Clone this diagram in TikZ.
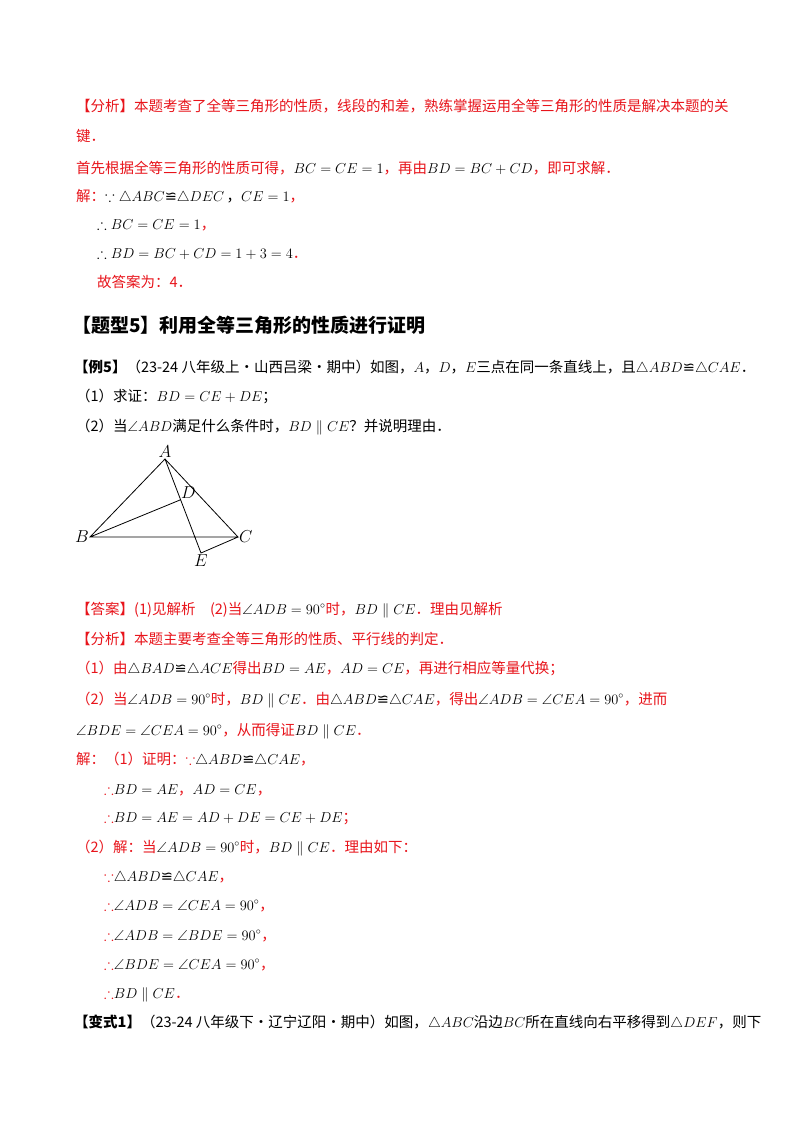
\documentclass[tikz,border=0pt]{standalone}
\usepackage{amsmath,amssymb}
\usepackage{fontspec}
\setmainfont{Noto Sans CJK SC}
\newfontfamily\djfont{DejaVu Sans}
\definecolor{rd}{HTML}{E8141B}
\newcommand{\cg}{{\djfont ≌}}
\newcommand{\rr}[1]{\textcolor{rd}{#1}}
\begin{document}
\begin{tikzpicture}[x=1pt,y=-1pt,
  ln/.style={anchor=base west,inner sep=0pt,font=\fontsize{14.5}{16}\selectfont},
  lab/.style={inner sep=1pt,font=\fontsize{16}{16}\selectfont}]
\useasboundingbox[fill=white] (0,0) rectangle (800,1132);
\node[ln] (l1) at (76,111) {\rr{【分析】本题考查了全等三角形的性质，线段的和差，熟练掌握运用全等三角形的性质是解决本题的关}};
\node[ln] (l2) at (76,141) {\rr{键．}};
\node[ln] (l3) at (76,173) {\rr{首先根据全等三角形的性质可得，}$BC=CE=1$\rr{，再由}$BD=BC+CD$\rr{，即可求解．}};
\node[ln] (l4) at (76,201) {\rr{解：}$\because\triangle ABC$\cg$\triangle DEC$\,，$CE=1$\rr{，}};
\node[ln] (l5) at (97,229) {$\therefore BC=CE=1$\rr{，}};
\node[ln] (l6) at (97,258) {$\therefore BD=BC+CD=1+3=4$\rr{．}};
\node[ln] (l7) at (97,287) {\rr{故答案为：4．}};
\node[ln,font=\fontsize{19}{21}\selectfont\bfseries] (h) at (72,332) {【题型5】利用全等三角形的性质进行证明};
\node[ln] (e1) at (74,372) {\textbf{【例5】}（23-24 八年级上·山西吕梁·期中）如图，$A$，$D$，$E$三点在同一条直线上，且$\triangle ABD$\cg$\triangle CAE$．};
\node[ln] (e2) at (76,401) {（1）求证：$BD=CE+DE$；};
\node[ln] (e3) at (76,431) {（2）当$\angle ABD$满足什么条件时，$BD\parallel CE$？并说明理由．};
% figure
\coordinate (A) at (165,459);
\coordinate (B) at (90,537);
\coordinate (C) at (238,537);
\coordinate (D) at (180,500);
\coordinate (E) at (201,553);
\draw[line width=0.8pt] (A)--(B)--(C)--cycle (B)--(D) (A)--(E)--(C);
\node[lab,above] (la) at (A) {$A$};
\node[lab,anchor=south west] (ld) at (D) {$D$};
\node[lab,left] (lb) at (B) {$B$};
\node[lab,right] (lc) at (C) {$C$};
\node[lab,below] (le) at (E) {$E$};
\node[ln] (a1) at (76,614) {\rr{【答案】(1)见解析\quad(2)当}$\angle ADB=90^\circ$\rr{时，}$BD\parallel CE$\rr{．理由见解析}};
\node[ln] (a2) at (76,644) {\rr{【分析】本题主要考查全等三角形的性质、平行线的判定．}};
\node[ln] (a3) at (76,673) {\rr{（1）由}$\triangle BAD$\cg$\triangle ACE$\rr{得出}$BD=AE$\rr{，}$AD=CE$\rr{，再进行相应等量代换；}};
\node[ln] (a4) at (76,704) {\rr{（2）当}$\angle ADB=90^\circ$\rr{时，}$BD\parallel CE$\rr{．由}$\triangle ABD$\cg$\triangle CAE$\rr{，得出}$\angle ADB=\angle CEA=90^\circ$\rr{，进而}};
\node[ln] (a5) at (76,735) {$\angle BDE=\angle CEA=90^\circ$\rr{，从而得证}$BD\parallel CE$\rr{．}};
\node[ln] (s1) at (76,764) {\rr{解：（1）证明：}\rr{$\because$}$\triangle ABD$\cg$\triangle CAE$\rr{，}};
\node[ln] (s2) at (104,794) {\rr{$\therefore$}$BD=AE$\rr{，}$AD=CE$\rr{，}};
\node[ln] (s3) at (104,822) {\rr{$\therefore$}$BD=AE=AD+DE=CE+DE$\rr{；}};
\node[ln] (s4) at (76,852) {\rr{（2）解：当}$\angle ADB=90^\circ$\rr{时，}$BD\parallel CE$\rr{．理由如下：}};
\node[ln] (s5) at (104,881) {\rr{$\because$}$\triangle ABD$\cg$\triangle CAE$\rr{，}};
\node[ln] (s6) at (104,910) {\rr{$\therefore$}$\angle ADB=\angle CEA=90^\circ$\rr{，}};
\node[ln] (s7) at (104,940) {\rr{$\therefore$}$\angle ADB=\angle BDE=90^\circ$\rr{，}};
\node[ln] (s8) at (104,969) {\rr{$\therefore$}$\angle BDE=\angle CEA=90^\circ$\rr{，}};
\node[ln] (s9) at (104,998) {\rr{$\therefore$}$BD\parallel CE$\rr{．}};
\node[ln] (v1) at (74,1027) {\textbf{【变式1】}（23-24 八年级下·辽宁辽阳·期中）如图，$\triangle ABC$沿边$BC$所在直线向右平移得到$\triangle DEF$，则下};
\end{tikzpicture}
\end{document}
